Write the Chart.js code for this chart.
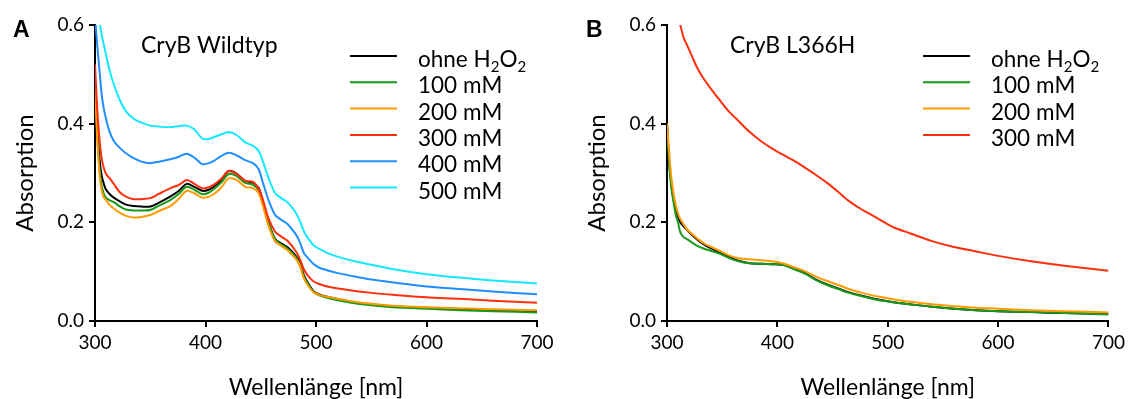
<!DOCTYPE html>
<html>
<head>
<meta charset="utf-8">
<script src="https://cdn.jsdelivr.net/npm/chart.js@4.4.0/dist/chart.umd.min.js"></script>
<style>
  body { margin: 0; background: #fff; }
  .panel { position: absolute; top: 0; }
</style>
</head>
<body>
<canvas id="chartA" class="panel" style="left:0px" width="564" height="399"></canvas>
<canvas id="chartB" class="panel" style="left:564px" width="565" height="399"></canvas>
<script>
const seriesLabels = ['ohne H₂O₂', '100 mM', '200 mM', '300 mM', '400 mM', '500 mM'];
const seriesColors = ['#000000', '#17991a', '#ff9b00', '#ff2e0c', '#1f8fff', '#14e8ff'];
const xTicks = [300, 400, 500, 600, 700];
const yTicks = [0, 0.2, 0.4, 0.6];

// A: CryB Wildtyp
const wavelengthA = [300, 302, 304, 306, 308, 310, 313, 317, 322, 328, 335, 342, 350, 358, 368, 376, 383, 390, 397, 403, 408, 414, 421, 428, 436, 443, 448, 452, 457, 463, 468, 474, 481, 485, 489, 493, 498, 503, 510, 520, 535, 550, 570, 600, 630, 660, 700];
const wtOhne = [0.49, 0.40, 0.33, 0.295, 0.278, 0.266, 0.258, 0.250, 0.243, 0.236, 0.233, 0.232, 0.232, 0.240, 0.252, 0.264, 0.278, 0.272, 0.264, 0.266, 0.273, 0.285, 0.304, 0.299, 0.284, 0.280, 0.270, 0.242, 0.200, 0.166, 0.158, 0.150, 0.134, 0.120, 0.093, 0.076, 0.060, 0.054, 0.049, 0.044, 0.037, 0.034, 0.030, 0.027, 0.024, 0.022, 0.019];
const wt100 = [0.475, 0.38, 0.31, 0.275, 0.258, 0.250, 0.245, 0.241, 0.233, 0.226, 0.224, 0.224, 0.225, 0.234, 0.245, 0.258, 0.272, 0.266, 0.257, 0.260, 0.268, 0.280, 0.298, 0.294, 0.280, 0.276, 0.265, 0.238, 0.198, 0.165, 0.156, 0.147, 0.131, 0.117, 0.090, 0.074, 0.058, 0.052, 0.047, 0.042, 0.036, 0.032, 0.028, 0.025, 0.022, 0.020, 0.017];
const wt200 = [0.47, 0.37, 0.30, 0.265, 0.25, 0.245, 0.236, 0.228, 0.220, 0.213, 0.210, 0.211, 0.215, 0.223, 0.233, 0.248, 0.264, 0.259, 0.250, 0.252, 0.258, 0.270, 0.289, 0.286, 0.272, 0.269, 0.260, 0.233, 0.193, 0.161, 0.153, 0.144, 0.128, 0.114, 0.087, 0.071, 0.058, 0.053, 0.049, 0.045, 0.039, 0.035, 0.031, 0.028, 0.026, 0.024, 0.022];
const wt300 = [0.52, 0.43, 0.37, 0.33, 0.31, 0.298, 0.290, 0.278, 0.262, 0.252, 0.247, 0.247, 0.249, 0.258, 0.269, 0.276, 0.286, 0.278, 0.269, 0.271, 0.277, 0.288, 0.304, 0.298, 0.284, 0.282, 0.268, 0.245, 0.208, 0.181, 0.172, 0.163, 0.144, 0.128, 0.105, 0.091, 0.080, 0.075, 0.070, 0.066, 0.061, 0.057, 0.053, 0.048, 0.045, 0.041, 0.037];
const wt400 = [0.62, 0.56, 0.51, 0.46, 0.43, 0.41, 0.385, 0.365, 0.352, 0.340, 0.330, 0.323, 0.320, 0.323, 0.328, 0.333, 0.339, 0.331, 0.318, 0.320, 0.325, 0.334, 0.341, 0.336, 0.326, 0.320, 0.308, 0.280, 0.245, 0.215, 0.206, 0.197, 0.178, 0.162, 0.138, 0.127, 0.115, 0.108, 0.103, 0.097, 0.090, 0.084, 0.078, 0.070, 0.065, 0.060, 0.054];
const wt500 = [0.72, 0.66, 0.61, 0.58, 0.56, 0.54, 0.51, 0.48, 0.450, 0.425, 0.410, 0.402, 0.396, 0.394, 0.393, 0.395, 0.396, 0.388, 0.370, 0.369, 0.373, 0.378, 0.383, 0.377, 0.362, 0.355, 0.345, 0.323, 0.290, 0.259, 0.250, 0.241, 0.222, 0.205, 0.182, 0.167, 0.153, 0.146, 0.138, 0.130, 0.121, 0.114, 0.105, 0.095, 0.088, 0.082, 0.076];

// B: CryB L366H
const wavelengthB = [300, 302, 304, 306, 308, 310, 312, 315, 318, 322, 327, 333, 340, 348, 356, 365, 375, 385, 395, 405, 415, 425, 435, 445, 455, 465, 475, 490, 505, 520, 540, 560, 580, 600, 630, 660, 700];
const mutOhne = [0.40, 0.32, 0.275, 0.245, 0.225, 0.211, 0.200, 0.192, 0.185, 0.176, 0.166, 0.156, 0.147, 0.138, 0.130, 0.122, 0.117, 0.116, 0.115, 0.114, 0.106, 0.097, 0.084, 0.074, 0.066, 0.058, 0.052, 0.044, 0.038, 0.034, 0.029, 0.025, 0.022, 0.020, 0.018, 0.016, 0.014];
const mut100 = [0.40, 0.32, 0.27, 0.24, 0.215, 0.20, 0.18, 0.170, 0.166, 0.160, 0.153, 0.147, 0.142, 0.136, 0.128, 0.121, 0.117, 0.116, 0.115, 0.114, 0.105, 0.096, 0.083, 0.073, 0.065, 0.057, 0.051, 0.043, 0.038, 0.034, 0.029, 0.025, 0.022, 0.020, 0.018, 0.016, 0.013];
const mut200 = [0.40, 0.34, 0.29, 0.258, 0.235, 0.218, 0.207, 0.196, 0.186, 0.178, 0.168, 0.158, 0.150, 0.142, 0.133, 0.127, 0.125, 0.123, 0.121, 0.117, 0.109, 0.101, 0.090, 0.081, 0.073, 0.065, 0.058, 0.050, 0.044, 0.039, 0.034, 0.030, 0.027, 0.025, 0.022, 0.020, 0.017];
const mut300 = [0.68, 0.665, 0.65, 0.635, 0.62, 0.61, 0.60, 0.575, 0.56, 0.54, 0.515, 0.492, 0.470, 0.447, 0.425, 0.405, 0.383, 0.365, 0.350, 0.337, 0.325, 0.311, 0.296, 0.280, 0.262, 0.243, 0.228, 0.209, 0.190, 0.178, 0.162, 0.150, 0.141, 0.132, 0.121, 0.112, 0.102];

const FONT = 'Lato';
const LEGEND_SIZE = 22.5;

// draws a label, turning Unicode subscript digits into small lowered digits
function drawLabel(ctx, text, x, y, size) {
  for (const ch of text) {
    const sub = '₀₁₂₃₄₅₆₇₈₉'.indexOf(ch);
    if (sub >= 0) {
      ctx.font = Math.round(size * 0.65) + 'px ' + FONT;
      ctx.fillText(String(sub), x, y + size * 0.24);
      x += ctx.measureText(String(sub)).width;
    } else {
      ctx.font = size + 'px ' + FONT;
      ctx.fillText(ch, x, y);
      x += ctx.measureText(ch).width;
    }
  }
}

const panelText = {
  id: 'panelText',
  afterDraw(chart, args, o) {
    const ctx = chart.ctx;
    ctx.save();
    ctx.fillStyle = '#000';
    ctx.textBaseline = 'alphabetic';
    ctx.textAlign = 'left';
    ctx.font = 'bold 23px "Liberation Sans"';
    ctx.fillText(o.letter, o.letterX, 37);
    ctx.font = '23px ' + FONT;
    ctx.fillText(o.title, o.titleX, 53);
    chart.data.datasets.forEach((ds, i) => {
      const y = 56 + i * 26.3;
      ctx.strokeStyle = ds.borderColor;
      ctx.lineWidth = 2;
      ctx.beginPath();
      ctx.moveTo(o.legendX, y);
      ctx.lineTo(o.legendX + 47, y);
      ctx.stroke();
      drawLabel(ctx, ds.label, o.legendX + 68, y + 11, LEGEND_SIZE);
    });
    ctx.restore();
  }
};

function makeDatasets(wavelength, series) {
  return series.map((values, i) => ({
    label: seriesLabels[i],
    data: wavelength.map((w, k) => ({ x: w, y: values[k] })),
    borderColor: seriesColors[i],
    borderWidth: 2,
    pointRadius: 0,
    tension: 0.3,
    order: series.length - i
  }));
}

function makeChart(id, datasets, axisLeft, rightPad, titlePad, text) {
  const tickGrid = { display: true, drawOnChartArea: false, drawTicks: true, tickLength: 6, color: '#000', lineWidth: 2 };
  const axisBorder = { display: true, color: '#000', width: 2 };
  return new Chart(document.getElementById(id), {
    type: 'line',
    data: { datasets: datasets },
    options: {
      responsive: false,
      animation: false,
      devicePixelRatio: 1,
      layout: { padding: { left: 0, right: rightPad, top: 25, bottom: 0 } },
      plugins: { legend: { display: false }, tooltip: { enabled: false }, panelText: text },
      scales: {
        x: {
          type: 'linear', min: 300, max: 700,
          afterBuildTicks: s => { s.ticks = xTicks.map(v => ({ value: v })); },
          afterFit: s => { s.height = 399 - 321; },
          grid: tickGrid, border: axisBorder,
          ticks: { color: '#000', padding: 4, font: { family: FONT, size: 19 } },
          title: { display: true, text: 'Wellenlänge [nm]', color: '#000', padding: 0, font: { family: FONT, size: 23, lineHeight: 1 } }
        },
        y: {
          type: 'linear', min: 0, max: 0.6,
          afterBuildTicks: s => { s.ticks = yTicks.map(v => ({ value: v })); },
          afterFit: s => { s.width = axisLeft; },
          grid: tickGrid, border: axisBorder,
          ticks: { color: '#000', padding: 5, font: { family: FONT, size: 19 }, callback: v => v.toFixed(1) },
          title: { display: true, text: 'Absorption', color: '#000', padding: { top: titlePad, bottom: 0 }, font: { family: FONT, size: 24, lineHeight: 1 } }
        }
      }
    },
    plugins: [panelText]
  });
}

makeChart('chartA', makeDatasets(wavelengthA, [wtOhne, wt100, wt200, wt300, wt400, wt500]), 95, 27, 13,
  { letter: 'A', letterX: 13, title: 'CryB Wildtyp', titleX: 141, legendX: 350 });
makeChart('chartB', makeDatasets(wavelengthB, [mutOhne, mut100, mut200, mut300]), 103, 19, 21,
  { letter: 'B', letterX: 22, title: 'CryB L366H', titleX: 166, legendX: 359 });
</script>
</body>
</html>
